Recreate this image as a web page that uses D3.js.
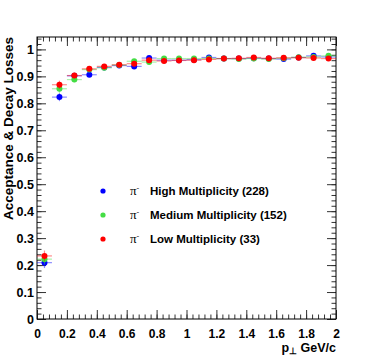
<!DOCTYPE html>
<html>
<head>
<meta charset="utf-8">
<script src="https://cdn.jsdelivr.net/npm/d3@7"></script>
<style>
  body { margin: 0; background: #fff; }
  text { font-family: "Liberation Sans", Arial, sans-serif; }
</style>
</head>
<body>
<svg width="374" height="360"></svg>
<script>
// bin centres (pt, GeV/c), bin width 0.1
var ptBins = [0.05, 0.15, 0.25, 0.35, 0.45, 0.55, 0.65, 0.75, 0.85, 0.95,
              1.05, 1.15, 1.25, 1.35, 1.45, 1.55, 1.65, 1.75, 1.85, 1.95];

var highMult = [0.209, 0.823, 0.902, 0.906, 0.933, 0.940, 0.937, 0.968, 0.960, 0.960,
                0.962, 0.970, 0.966, 0.966, 0.967, 0.966, 0.964, 0.970, 0.976, 0.972];
var medMult  = [0.222, 0.854, 0.888, 0.925, 0.932, 0.942, 0.956, 0.953, 0.966, 0.966,
                0.966, 0.966, 0.966, 0.964, 0.966, 0.964, 0.967, 0.971, 0.972, 0.976];
var lowMult  = [0.234, 0.869, 0.903, 0.928, 0.937, 0.943, 0.947, 0.960, 0.957, 0.959,
                0.960, 0.963, 0.966, 0.967, 0.970, 0.967, 0.969, 0.969, 0.968, 0.966];
var errs     = [0.020, 0.015, 0.010, 0.008, 0.007, 0.006, 0.006, 0.006, 0.006, 0.006,
                0.006, 0.006, 0.006, 0.006, 0.006, 0.006, 0.006, 0.006, 0.006, 0.006];

var seriesNames = ['High Multiplicity (228)', 'Medium Multiplicity (152)', 'Low Multiplicity (33)'];
var seriesColors = ['#0000ff', '#44dd44', '#ff0000'];
var xTicks = [0, 0.2, 0.4, 0.6, 0.8, 1, 1.2, 1.4, 1.6, 1.8, 2];
var yTicks = [0, 0.1, 0.2, 0.3, 0.4, 0.5, 0.6, 0.7, 0.8, 0.9, 1];

var series = [highMult, medMult, lowMult];

//FRAME SETUP
var fLeft = 37, fTop = 37, fRight = 336, fBottom = 319;

var svg = d3.select('svg');

var x = d3.scaleLinear().domain([0, 2]).range([fLeft, fRight]);
var y = d3.scaleLinear().domain([0, 1.046]).range([fBottom, fTop]);

var fmt = d3.format('~g');
var minorX = d3.range(0, 2.0001, 0.04).map(function(d) { return +d.toFixed(2); });
var minorY = d3.range(0, 1.0401, 0.02).map(function(d) { return +d.toFixed(2); });

function tickAxis(axis, scale, ticks, size, pos, labels) {
    var a = axis(scale).tickValues(ticks).tickSize(size).tickPadding(4);
    if (labels) a.tickFormat(fmt); else a.tickFormat('');
    var g = svg.append('g').attr('transform', pos).call(a);
    g.select('.domain').remove();
    g.selectAll('line').attr('stroke', '#333');
    return g;
}

// bottom: ticks point up into the frame
tickAxis(d3.axisBottom, x, minorX, -4.5, 'translate(0,' + fBottom + ')', false);
var xg = tickAxis(d3.axisBottom, x, xTicks, -9, 'translate(0,' + fBottom + ')', true);
xg.selectAll('text').attr('y', 10).attr('dy', '0.71em')
    .attr('font-size', 12).attr('font-weight', 'bold').attr('fill', '#000');

// top: ticks point down
tickAxis(d3.axisTop, x, minorX, -4.5, 'translate(0,' + fTop + ')', false);
tickAxis(d3.axisTop, x, xTicks, -9, 'translate(0,' + fTop + ')', false);

// left: ticks point right
tickAxis(d3.axisLeft, y, minorY, -4.5, 'translate(' + fLeft + ',0)', false);
var yg = tickAxis(d3.axisLeft, y, yTicks, -9, 'translate(' + fLeft + ',0)', true);
yg.selectAll('text').attr('x', -3)
    .attr('font-size', 12.5).attr('font-weight', 'bold').attr('fill', '#000');

// right: ticks point left
tickAxis(d3.axisRight, y, minorY, -4.5, 'translate(' + fRight + ',0)', false);
tickAxis(d3.axisRight, y, yTicks, -9, 'translate(' + fRight + ',0)', false);

// frame
svg.append('rect')
    .attr('x', fLeft).attr('y', fTop)
    .attr('width', fRight - fLeft).attr('height', fBottom - fTop)
    .attr('fill', 'none').attr('stroke', '#000').attr('stroke-width', 1);

// axis titles
svg.append('text')
    .attr('transform', 'translate(13,' + fTop + ') rotate(-90)')
    .attr('text-anchor', 'end')
    .attr('font-size', 13.5).attr('font-weight', 'bold')
    .text('Acceptance & Decay Losses');

var xt = svg.append('text')
    .attr('x', fRight).attr('y', 352)
    .attr('text-anchor', 'end')
    .attr('font-size', 12.5).attr('font-weight', 'bold');
xt.append('tspan').text('p');
xt.append('tspan').attr('font-size', 9).attr('dy', 2).text('\u22A5');
xt.append('tspan').attr('dy', -2).text(' GeV/c');

//DATA POINTS
series.forEach(function(vals, s) {
    var col = seriesColors[s];
    var g = svg.append('g');
    var pts = g.selectAll('g.pt')
        .data(ptBins.map(function(p, i) { return {pt: p, v: vals[i], e: errs[i]}; }))
        .enter().append('g').attr('class', 'pt');

    pts.append('line')
        .attr('x1', function(d) { return x(d.pt - 0.05); })
        .attr('x2', function(d) { return x(d.pt + 0.05); })
        .attr('y1', function(d) { return y(d.v); })
        .attr('y2', function(d) { return y(d.v); })
        .attr('stroke', col).attr('stroke-opacity', 0.45).attr('stroke-width', 1.2);

    pts.append('line')
        .attr('x1', function(d) { return x(d.pt); })
        .attr('x2', function(d) { return x(d.pt); })
        .attr('y1', function(d) { return y(d.v - d.e); })
        .attr('y2', function(d) { return y(d.v + d.e); })
        .attr('stroke', col).attr('stroke-opacity', 0.45).attr('stroke-width', 1.2);

    pts.append('circle')
        .attr('cx', function(d) { return x(d.pt); })
        .attr('cy', function(d) { return y(d.v); })
        .attr('r', 3)
        .attr('fill', col);
});

//LEGEND
var legendY = [191, 215, 239];
var legend = svg.append('g');
seriesNames.forEach(function(name, i) {
    var row = legend.append('g').attr('transform', 'translate(0,' + legendY[i] + ')');
    row.append('circle').attr('cx', 103).attr('cy', 0).attr('r', 2.6).attr('fill', seriesColors[i]);
    var t = row.append('text').attr('x', 130).attr('y', 4).attr('font-size', 13);
    t.append('tspan').attr('font-family', '"Liberation Serif", serif').text('\u03C0');
    t.append('tspan').attr('font-size', 8).attr('dy', -5).text('-');
    row.append('text').attr('x', 150).attr('y', 4)
        .attr('font-size', 11.5).attr('font-weight', 'bold')
        .text(name);
});
</script>
</body>
</html>
